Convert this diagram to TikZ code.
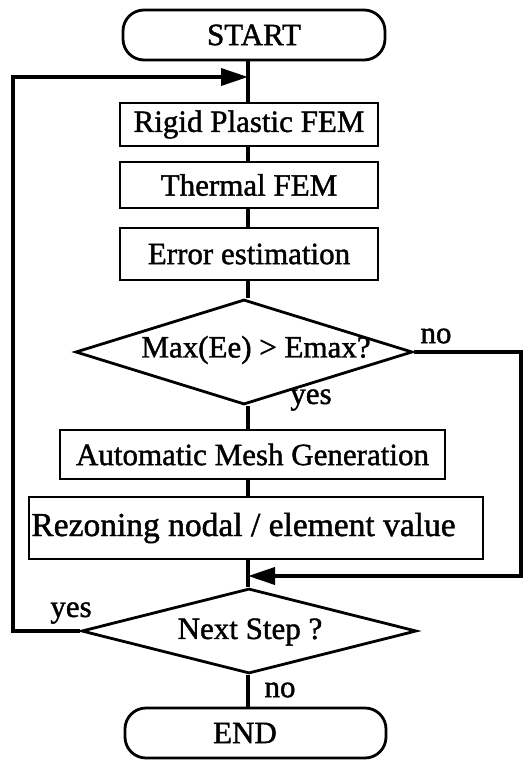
\documentclass[tikz,border=0pt]{standalone}
\usepackage{fontspec}
\setmainfont{Liberation Serif}[BoldFont={Liberation Serif},BoldFeatures={FakeBold=1.3}]
\usetikzlibrary{arrows.meta,shapes.geometric}
\begin{document}
\begin{tikzpicture}[x=1pt,y=-1pt,
  txt/.style={font=\fontsize{31}{36}\selectfont\bfseries},
  box/.style={draw,line width=2.8pt,rectangle,inner sep=0pt,txt},
  term/.style={box,rounded corners=21pt},
  dia/.style={draw,line width=2.8pt,diamond,inner sep=0pt},
  lbl/.style={txt,inner sep=0pt},
  con/.style={line width=3.6pt},
  arr/.style={line width=3.6pt,-{Triangle[length=27pt,width=17pt]}}]
\useasboundingbox (0,0) rectangle (531,760);
\coordinate (spine) at (248,0);
\node[term,minimum width=262pt,minimum height=50pt] (start) at (254,35) {START};
\node[box,minimum width=258pt,minimum height=43pt] (rpf) at (249,124.5) {Rigid Plastic FEM};
\node[box,minimum width=258pt,minimum height=46pt] (thm) at (249,185) {Thermal FEM};
\node[box,minimum width=258pt,minimum height=52pt] (err) at (249,254) {Error estimation};
\node[dia,minimum width=337pt,minimum height=105pt] (d1) at (244,352) {};
\node[lbl] (d1t) at (256,350) {Max(Ee) > Emax?};
\node[box,minimum width=385pt,minimum height=49pt] (amg) at (252.5,454.5) {Automatic Mesh Generation};
\node[box,minimum width=454pt,minimum height=62pt] (rez) at (256,528) {};
\node[lbl,font=\fontsize{33.5}{38}\selectfont\bfseries] (rezt) at (243.5,528) {Rezoning nodal / element value};
\node[dia,minimum width=335pt,minimum height=85pt] (d2) at (249,631) {};
\node[lbl] (d2t) at (250,632) {Next Step ?};
\node[term,minimum width=261pt,minimum height=50pt] (end) at (255.5,733) {};
\node[lbl] (endt) at (245,733) {END};
\node[lbl] (yes1) at (311,400) {yes};
\node[lbl] (no1) at (436,336) {no};
\node[lbl] (yes2) at (71,613) {yes};
\node[lbl] (no2) at (280,690) {no};
\coordinate (j1) at (248,77);
\coordinate (j2) at (248,576);
\coordinate (lx) at (13,77);
\coordinate (rx) at (521,576);
% spine
\draw[con] (start.south -| spine) -- (rpf.north -| spine);
\draw[con] (rpf.south -| spine) -- (thm.north -| spine);
\draw[con] (thm.south -| spine) -- (err.north -| spine);
\draw[con] (err.south -| spine) -- (d1.north -| spine);
\draw[con] (d1.south -| spine) -- (amg.north -| spine);
\draw[con] (amg.south -| spine) -- (rez.north -| spine);
\draw[con] (rez.south -| spine) -- (d2.north -| spine);
\draw[con] (d2.south -| spine) -- (end.north -| spine);
% loops
\draw[arr] (d2.west) -| (lx) -- (j1);
\draw[arr] (d1.east) -| (rx) -- (j2);
\end{tikzpicture}
\end{document}
